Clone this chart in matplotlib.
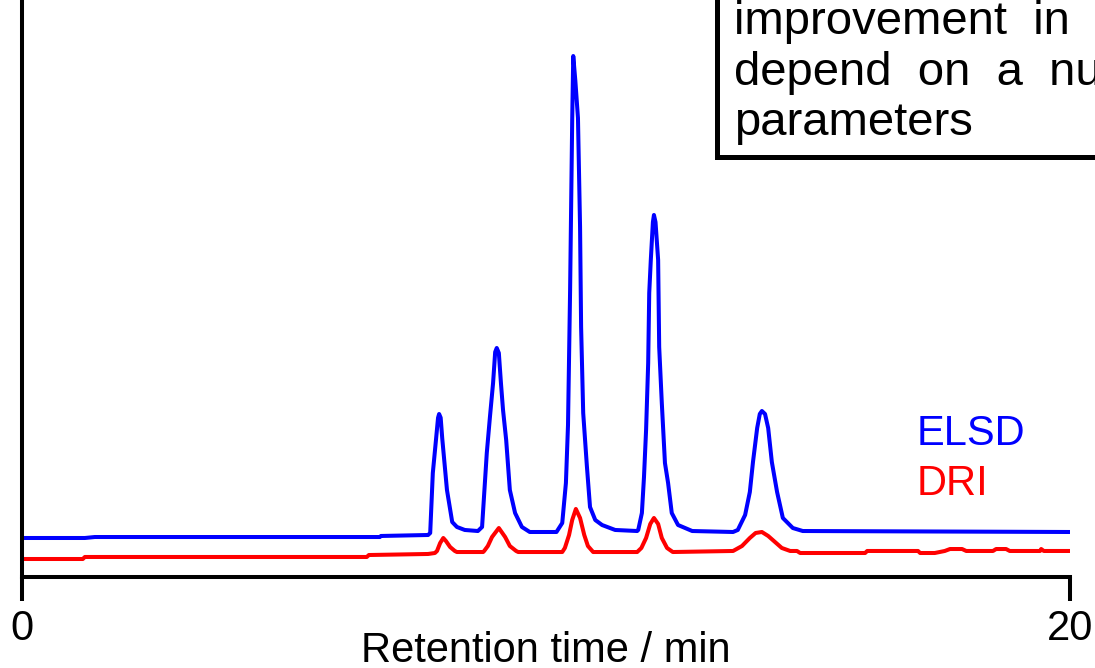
import matplotlib
matplotlib.use("Agg")
import matplotlib.pyplot as plt
from matplotlib.patches import Rectangle

# traces: time in min, signal in % of full scale
elsd_time = [0.00, 1.20, 1.39, 1.40, 6.83, 6.85, 7.75, 7.79, 7.84, 7.90, 7.94,
             7.96, 7.99, 8.02, 8.11, 8.21, 8.30, 8.45, 8.70, 8.78, 8.87, 8.93,
             8.99, 9.03, 9.06, 9.10, 9.14, 9.18, 9.24, 9.31, 9.41, 9.54, 9.69,
             10.20, 10.31, 10.38, 10.42, 10.46, 10.50, 10.52, 10.56, 10.61,
             10.65, 10.67, 10.71, 10.78, 10.84, 10.94, 11.07, 11.32, 11.74,
             11.76, 11.83, 11.87, 11.91, 11.95, 11.97, 12.00, 12.04, 12.06,
             12.09, 12.14, 12.16, 12.21, 12.27, 12.33, 12.40, 12.52, 12.79,
             13.57, 13.66, 13.80, 13.89, 13.95, 14.03, 14.08, 14.12, 14.18,
             14.24, 14.31, 14.41, 14.52, 14.71, 14.90, 20.00]
elsd_signal = [6.76, 6.76, 6.93, 6.93, 6.93, 7.11, 7.28, 7.63, 18.02, 23.74,
               27.60, 28.25, 27.60, 24.0, 15.08, 9.53, 8.67, 8.15, 7.97, 8.67,
               21.49, 27.73, 33.62, 38.99, 39.69, 38.82, 33.62, 28.94, 23.74,
               15.08, 11.09, 8.67, 7.80, 7.80, 9.36, 16.29, 26.34, 49.74, 79.20,
               90.29, 86.00, 79.55, 60.66, 43.33, 28.42, 19.24, 12.13, 9.88,
               9.01, 8.15, 7.97, 8.15, 11.09, 17.33, 25.48, 37.09, 49.22, 54.94,
               61.50, 62.74, 61.50, 54.94, 39.86, 30.16, 19.76, 16.29, 11.09,
               9.01, 7.97, 7.80, 8.15, 10.75, 14.73, 19.93, 25.82, 28.25, 28.77,
               28.25, 25.82, 19.93, 14.73, 10.23, 8.49, 7.97, 7.80]

dri_time = [0.00, 1.16, 1.20, 6.58, 6.62, 7.75, 7.88, 7.92, 7.98, 8.04, 8.09,
            8.17, 8.26, 8.30, 8.80, 8.82, 8.89, 8.97, 9.10, 9.22, 9.31, 9.43,
            9.47, 10.31, 10.36, 10.44, 10.50, 10.57, 10.65, 10.73, 10.80,
            10.90, 11.74, 11.82, 11.91, 11.99, 12.06, 12.14, 12.21, 12.31,
            12.42, 13.57, 13.74, 13.89, 14.00, 14.12, 14.24, 14.37, 14.50,
            14.66, 14.79, 14.85, 16.09, 16.13, 17.10, 17.14, 17.42, 17.61,
            17.71, 17.94, 18.02, 18.53, 18.59, 18.78, 18.85, 19.43, 19.45,
            19.50, 20.00]
dri_signal = [3.12, 3.12, 3.47, 3.47, 3.81, 3.99, 4.16, 4.51, 5.89, 6.76, 6.24,
              5.20, 4.51, 4.33, 4.33, 4.51, 5.37, 6.93, 8.49, 6.93, 5.37, 4.51,
              4.33, 4.33, 5.03, 7.28, 9.88, 11.79, 10.23, 7.28, 5.37, 4.33,
              4.33, 5.03, 6.76, 9.19, 10.23, 9.19, 6.76, 5.03, 4.33, 4.51, 5.37,
              6.76, 7.63, 7.80, 7.11, 6.07, 5.03, 4.51, 4.51, 4.16, 4.16, 4.51,
              4.51, 4.16, 4.16, 4.51, 4.85, 4.85, 4.51, 4.51, 4.85, 4.85, 4.51,
              4.51, 4.85, 4.51, 4.51]

x_ticks = [0, 20]
x_tick_labels = ["0", "20"]
x_label = "Retention time / min"
series_names = ["ELSD", "DRI"]
note_lines = ["improvement  in", "depend  on  a  nu", "parameters"]

W, H = 1095, 668
plt.rcParams["font.family"] = ["Liberation Sans", "DejaVu Sans"]

fig = plt.figure(figsize=(W / 100, H / 100), dpi=100)
ax = fig.add_axes([22 / W, (H - 577) / H, (1070 - 22) / W, 577 / H])

ax.plot(elsd_time, elsd_signal, color="#0000ff", lw=2.9)
ax.plot(dri_time, dri_signal, color="#ff0000", lw=2.9)

ax.set_xlim(0, 20)
ax.set_ylim(0, 100)
for side in ["top", "right"]:
    ax.spines[side].set_visible(False)
for side in ["left", "bottom"]:
    ax.spines[side].set_linewidth(2.9)
    ax.spines[side].set_capstyle("projecting")
ax.set_yticks([])
ax.set_xticks(x_ticks)
ax.set_xticklabels(x_tick_labels)
ax.tick_params(axis="x", direction="out", length=17, width=2.9, pad=6,
               labelsize=30)


def px(x, y):
    return x / W, 1 - y / H


fig.text(*px(546, 662), x_label, fontsize=30, ha="center", va="baseline")
fig.text(*px(917, 445), series_names[0], color="#0000ff", fontsize=30,
         va="baseline")
fig.text(*px(917, 495), series_names[1], color="#ff0000", fontsize=30,
         va="baseline")

# note box running off the top right corner
bx, by = px(717, 157)
fig.patches.append(Rectangle((bx, by), 1.0, 1.0, transform=fig.transFigure,
                             fill=True, facecolor="white", edgecolor="black",
                             lw=3.6, zorder=5))
for line, base in zip(note_lines, [34, 85, 135]):
    fig.text(*px(734, base), line, fontsize=34, va="baseline", zorder=6)

fig.savefig("out.png", dpi=100)
